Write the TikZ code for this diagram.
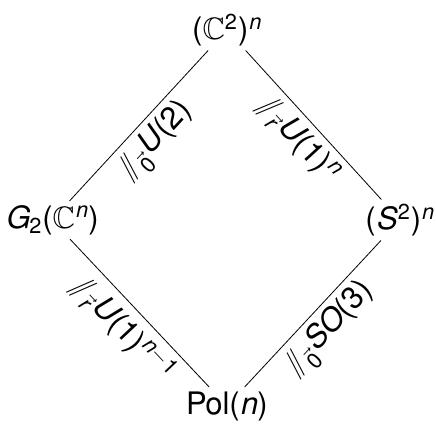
\documentclass[tikz,border=0pt]{standalone}
\usepackage{amsmath}
\usepackage{amssymb}
\usepackage[T1]{fontenc}
\usepackage{helvet}
\renewcommand{\familydefault}{\sfdefault}
\usepackage[helvet]{sfmath}

\newcommand{\redq}[1]{/\!\!/_{\vec{#1}}}

\begin{document}
\begin{tikzpicture}[x=0.5pt,y=-0.5pt,
  every node/.style={font=\fontsize{15.5}{18}\selectfont, inner sep=2pt},
  lbl/.style={midway, sloped, below, inner sep=3pt}]
  \useasboundingbox (0,0) rectangle (436,428);

  % spaces
  \node (top) at (227,30) {$(\mathbb{C}^2)^n$};
  \node (lft) at (52,220) {$G_2(\mathbb{C}^n)$};
  \node (rgt) at (400,220) {$(S^2)^n$};
  \node (bot) at (227,406) {$\mathrm{Pol}(n)$};

  % quotients
  \draw (top) -- (lft) node[lbl] {$\redq{0}U(2)$};
  \draw (top) -- (rgt) node[lbl] {$\redq{r}U(1)^n$};
  \draw (lft) -- (bot) node[lbl] {$\redq{r}U(1)^{n-1}$};
  \draw (bot) -- (rgt) node[lbl] {$\redq{0}SO(3)$};
\end{tikzpicture}
\end{document}
